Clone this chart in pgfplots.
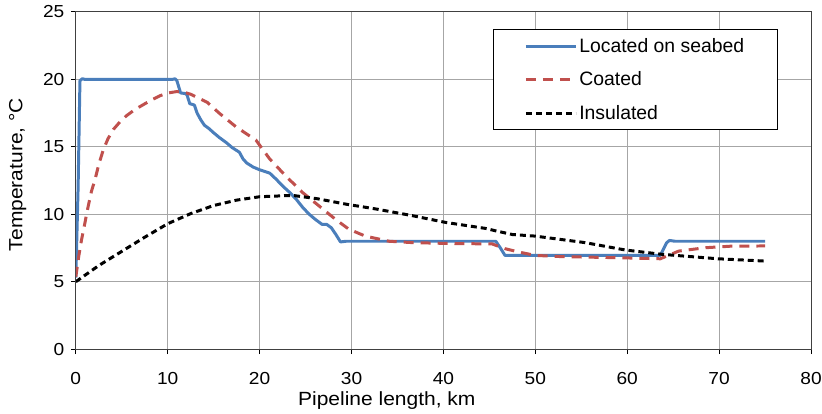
\documentclass[border=0pt]{standalone}
\usepackage{fontspec}
\setmainfont{Liberation Sans}[FakeStretch=1.1]
\newfontfamily\legfont{Liberation Sans}
\usepackage{pgfplots}
\pgfplotsset{compat=1.18}
\definecolor{cblue}{HTML}{4A7EBB}
\definecolor{cred}{HTML}{C0504D}
\begin{document}
\begin{tikzpicture}
\begin{axis}[
  scale only axis, width=737bp, height=338bp,
  xmin=0, xmax=80, ymin=0, ymax=25,
  xtick={0,10,...,80}, ytick={0,5,...,25},
  grid=major, grid style={color=black!35, line width=1bp},
  axis line style={black!75, line width=1bp},
  tick align=outside, xtick pos=bottom, ytick pos=left, major tick length=5bp,
  tick style={black, line width=1bp},
  /pgf/number format/assume math mode=true,
  tick label style={font=\fontsize{17.5}{21}\selectfont},
  xticklabel style={yshift=-15bp},
  yticklabel style={xshift=-3bp},
  xlabel={Pipeline length, km},
  ylabel={Temperature, °C},
  every axis x label/.style={at={(axis description cs:0.423,0)}, anchor=center, yshift=-52bp, font=\fontsize{19.2}{22}\selectfont},
  every axis y label/.style={at={(axis description cs:-0.079,0.518)}, rotate=90, anchor=center, font=\fontsize{19.2}{22}\selectfont},
  legend style={at={(axis cs:45.4,23.74)}, anchor=north west, draw=black, line width=1bp, fill=white,
    font=\legfont\fontsize{19.5}{22}\selectfont, inner xsep=31bp, inner ysep=7bp, row sep=14bp},
  legend cell align=left,
  legend image code/.code={\draw[#1] (0bp,0bp) -- (50bp,0bp);},
]
\addplot[cblue, line width=3bp, line join=round] coordinates {
(0,5.3) (0.25,12) (0.45,19.9) (0.7,20.05) (1,20) (10.5,20) (10.8,20.05) (11.0,19.9) (11.4,19.0) (11.9,18.95) (12.1,18.85) (12.4,18.2) (12.9,18.1) (13.2,17.5) (13.6,17.0) (14.0,16.6) (14.5,16.35) (14.9,16.1) (15.6,15.7) (16.4,15.3) (17.0,14.95) (17.8,14.6) (18.2,14.1) (18.6,13.8) (19.3,13.5) (20.0,13.3) (21.1,13.05) (21.8,12.6) (22.5,12.1) (23.3,11.6) (24.0,11.1) (24.7,10.5) (25.4,10.0) (26.1,9.6) (26.8,9.25) (27.3,9.25) (27.8,9.0) (28.3,8.5) (28.8,7.95) (29.4,8.0) (45.7,8.0) (46.2,7.5) (46.7,6.95) (63.6,6.95) (64.3,7.9) (64.6,8.06) (65.2,8.0) (75,8.0)
};
\addlegendentry{Located on seabed\hspace{5bp}}
\addplot[cred, line width=3bp, dash pattern=on 10bp off 7bp] coordinates {
(0,5.37) (0.3,6.8) (0.62,8.1) (1.0,9.4) (1.35,10.6) (1.7,11.7) (2.1,12.6) (2.5,13.7) (3.0,14.8) (3.5,15.6) (4.1,16.3) (4.8,16.85) (5.5,17.3) (6.4,17.75) (7.4,18.15) (8.3,18.5) (9.2,18.8) (10.1,19.0) (11.0,19.1) (12.0,19.0) (12.5,18.9) (13.4,18.6) (14.3,18.3) (15.6,17.5) (17.4,16.5) (19.6,15.5) (21.1,14.1) (22.9,12.8) (24.7,11.6) (26.5,10.6) (28.3,9.6) (29.7,8.9) (31.5,8.38) (34.1,8.0) (36.6,7.9) (40.2,7.84) (45.3,7.8) (46.7,7.45) (48.2,7.2) (50,6.95) (52.9,6.86) (59.0,6.78) (63.6,6.7) (65.6,7.27) (68.5,7.52) (71.4,7.64) (75,7.65)
};
\addlegendentry{Coated}
\addplot[black, line width=3bp, dash pattern=on 6bp off 4bp] coordinates {
(0,5) (2.5,6.2) (5,7.25) (7.5,8.3) (10,9.3) (12.5,10.05) (15,10.65) (17.5,11.05) (20,11.3) (23.6,11.4) (26.3,11.15) (29.4,10.75) (32.6,10.4) (36.6,9.9) (40.2,9.4) (44.6,8.95) (45.7,8.77) (47.5,8.5) (50,8.38) (55.4,7.9) (59.8,7.35) (63.8,7.03) (69.9,6.7) (75,6.53)
};
\addlegendentry{Insulated}
\end{axis}
\pgfresetboundingbox
\useasboundingbox (-76bp,-65bp) rectangle (748bp,350bp);
\end{tikzpicture}
\end{document}
